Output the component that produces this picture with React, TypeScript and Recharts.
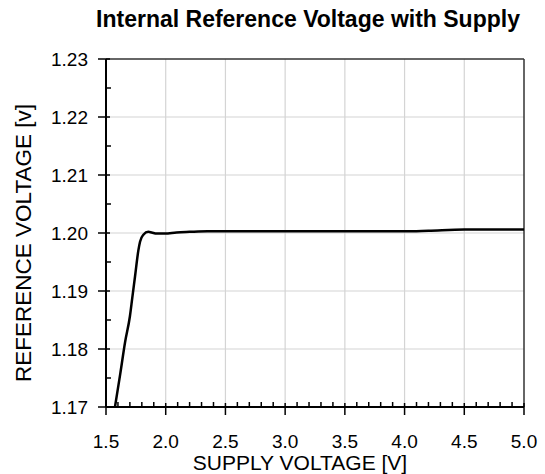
import React from 'react';
import { LineChart, Line, XAxis, YAxis, ReferenceLine, Label } from 'recharts';

// supply voltage [V] vs internal reference voltage [V]
const supplyV = [1.575, 1.62, 1.66, 1.70, 1.72, 1.743, 1.771, 1.785, 1.813, 1.854, 1.882, 1.924, 1.994, 2.09, 2.2, 2.35, 2.6, 3.0, 3.5, 4.0, 4.2, 4.5, 4.75, 5.0];
const refV = [1.17, 1.1758, 1.1812, 1.1856, 1.1888, 1.1925, 1.197, 1.1985, 1.1997, 1.2002, 1.2001, 1.1999, 1.1999, 1.2001, 1.2002, 1.2003, 1.2003, 1.2003, 1.2003, 1.2003, 1.2004, 1.2006, 1.2006, 1.2006];

const xTicks = [1.5, 1.6, 1.7, 1.8, 1.9, 2.0, 2.1, 2.2, 2.3, 2.4, 2.5, 2.6, 2.7, 2.8, 2.9, 3.0, 3.1, 3.2, 3.3, 3.4, 3.5, 3.6, 3.7, 3.8, 3.9, 4.0, 4.1, 4.2, 4.3, 4.4, 4.5, 4.6, 4.7, 4.8, 4.9, 5.0];
const xMajor = [1.5, 2.0, 2.5, 3.0, 3.5, 4.0, 4.5, 5.0];
const yTicks = [1.17, 1.175, 1.18, 1.185, 1.19, 1.195, 1.2, 1.205, 1.21, 1.215, 1.22, 1.225, 1.23];
const yMajor = [1.17, 1.18, 1.19, 1.2, 1.21, 1.22, 1.23];

const data = supplyV.map((v, i) => ({ v, r: refV[i] }));

const FONT = '"Liberation Sans", Arial, sans-serif';
const isIn = (list: number[], v: number) => list.some((m) => Math.abs(m - v) < 1e-9);

const XTick = (props: any) => {
  const { x, y, payload } = props;
  const major = isIn(xMajor, payload.value);
  return (
    <g>
      {major ? (
        <>
          <line x1={x} x2={x} y1={y - 4} y2={y + 8} stroke="#000" strokeWidth={1.5} />
          <text x={x} y={y + 41} textAnchor="middle" fontSize={19} fontFamily={FONT} fill="#000">
            {payload.value.toFixed(1)}
          </text>
        </>
      ) : (
        <line x1={x} x2={x} y1={y - 5} y2={y} stroke="#000" strokeWidth={1.5} />
      )}
    </g>
  );
};

const YTick = (props: any) => {
  const { x, y, payload } = props;
  const major = isIn(yMajor, payload.value);
  return (
    <g>
      {major ? (
        <>
          <line x1={x - 8} x2={x + 4} y1={y} y2={y} stroke="#000" strokeWidth={1.5} />
          <text x={x - 18} y={y + 7} textAnchor="end" fontSize={19} fontFamily={FONT} fill="#000">
            {payload.value.toFixed(2)}
          </text>
        </>
      ) : (
        <line x1={x} x2={x + 5} y1={y} y2={y} stroke="#000" strokeWidth={1.5} />
      )}
    </g>
  );
};

const XTitle = ({ viewBox }: any) => (
  <text x={viewBox.x + viewBox.width / 2 - 15} y={viewBox.y + 63} textAnchor="middle" fontSize={21} fontFamily={FONT} fill="#000">
    SUPPLY VOLTAGE [V]
  </text>
);

const YTitle = ({ viewBox }: any) => {
  const cx = 23;
  const cy = viewBox.y + viewBox.height / 2 + 10;
  return (
    <text x={cx} y={cy} transform={`rotate(-90, ${cx}, ${cy})`} textAnchor="middle" dominantBaseline="central" fontSize={22.5} fontFamily={FONT} fill="#000">
      REFERENCE VOLTAGE [v]
    </text>
  );
};

export default function App() {
  return (
    <div style={{ position: 'absolute', left: 0, top: 0, width: 545, height: 474, background: '#fff' }}>
      <div
        style={{
          position: 'absolute',
          top: 8,
          left: 308,
          transform: 'translateX(-50%)',
          whiteSpace: 'nowrap',
          fontFamily: FONT,
          fontWeight: 'bold',
          fontSize: 23,
          lineHeight: '23px',
          color: '#000',
        }}
      >
        Internal Reference Voltage with Supply
      </div>
      <LineChart width={545} height={474} data={data} margin={{ top: 59, right: 21, left: 0, bottom: 0 }}>
        {xMajor.slice(1, -1).map((v) => (
          <ReferenceLine key={`gx${v}`} x={v} stroke="#d4d4d4" strokeWidth={1.2} />
        ))}
        {yMajor.slice(1, -1).map((v) => (
          <ReferenceLine key={`gy${v}`} y={v} stroke="#d4d4d4" strokeWidth={1.2} />
        ))}
        <ReferenceLine y={1.23} stroke="#333" strokeWidth={1.5} />
        <ReferenceLine x={5.0} stroke="#333" strokeWidth={1.5} />
        <XAxis
          dataKey="v"
          type="number"
          domain={[1.5, 5.0]}
          ticks={xTicks}
          interval={0}
          allowDataOverflow
          height={67}
          tickSize={0}
          tickMargin={0}
          tickLine={false}
          axisLine={{ stroke: '#000', strokeWidth: 2 }}
          tick={<XTick />}
        >
          <Label content={<XTitle />} />
        </XAxis>
        <YAxis
          type="number"
          domain={[1.17, 1.23]}
          ticks={yTicks}
          interval={0}
          allowDataOverflow
          width={106}
          tickSize={0}
          tickMargin={0}
          tickLine={false}
          axisLine={{ stroke: '#000', strokeWidth: 2 }}
          tick={<YTick />}
        >
          <Label content={<YTitle />} />
        </YAxis>
        <Line
          type="monotone"
          dataKey="r"
          stroke="#000"
          strokeWidth={2.5}
          dot={false}
          isAnimationActive={false}
        />
      </LineChart>
    </div>
  );
}
